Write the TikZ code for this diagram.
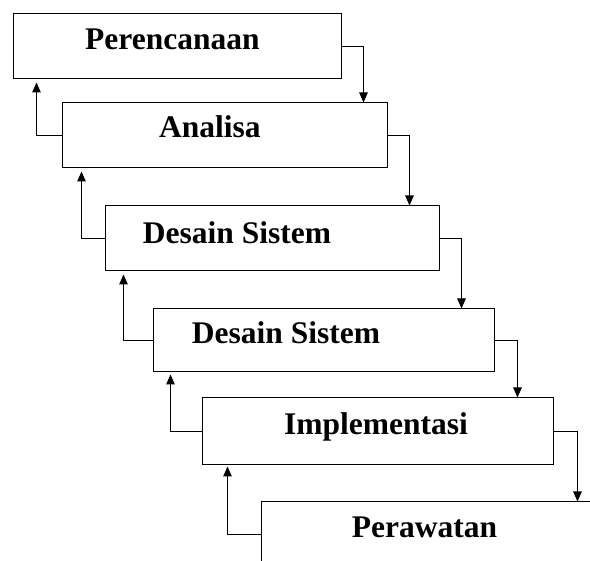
\documentclass[tikz,border=0pt]{standalone}
\usepackage{fontspec}
\setmainfont{Liberation Serif}
\usetikzlibrary{arrows.meta}
\tikzset{
  box/.style={draw, line width=1pt, inner sep=0pt, minimum height=65pt},
  lbl/.style={anchor=base west, inner sep=0pt, font=\fontsize{31.5}{36}\selectfont\bfseries},
  arr/.style={line width=1pt, -{Triangle[length=10pt,width=8.5pt]}}
}
\begin{document}
\begin{tikzpicture}[x=1pt,y=-1pt]
    \useasboundingbox (0,0) rectangle (590,561);
    \clip (0,0) rectangle (590,561);

    \node (b1) at (177,46.5) [box, minimum width=328pt] {};
    \node (b2) at (224.5,135.5) [box, minimum width=325pt] {};
    \node (b3) at (272,238.5) [box, minimum width=334pt] {};
    \node (b4) at (323.5,340.5) [box, minimum width=341pt, minimum height=63pt] {};
    \node (b5) at (377.5,431.5) [box, minimum width=351pt, minimum height=67pt] {};
    \node (b6) at (440.5,534.5) [box, minimum width=359pt] {};

    \node (t1) at (85,50) [lbl] {Perencanaan};
    \node (t2) at (159,138) [lbl] {Analisa};
    \node (t3) at (142.7,243.3) [lbl] {Desain Sistem};
    \node (t4) at (191.7,344) [lbl] {Desain Sistem};
    \node (t5) at (284,435) [lbl] {Implementasi};
    \node (t6) at (351.7,538) [lbl] {Perawatan};

    \draw[arr] (b1.east) -| ([xshift=22pt]b1.east |- b2.north);
    \draw[arr] (b2.east) -| ([xshift=22pt]b2.east |- b3.north);
    \draw[arr] (b3.east) -| ([xshift=22pt]b3.east |- b4.north);
    \draw[arr] (b4.east) -| ([xshift=23pt]b4.east |- b5.north);
    \draw[arr] (b5.east) -| ([xshift=24pt]b5.east |- b6.north);

    \draw[arr, shorten >=3pt] (b2.west) -| ([xshift=24pt]b1.south west);
    \draw[arr, shorten >=3pt] (b3.west) -| ([xshift=20pt]b2.south west);
    \draw[arr, shorten >=3pt] (b4.west) -| ([xshift=19pt]b3.south west);
    \draw[arr, shorten >=2pt] (b5.west) -| ([xshift=18pt]b4.south west);
    \draw[arr, shorten >=1pt] (b6.west) -| ([xshift=26pt]b5.south west);
\end{tikzpicture}
\end{document}
